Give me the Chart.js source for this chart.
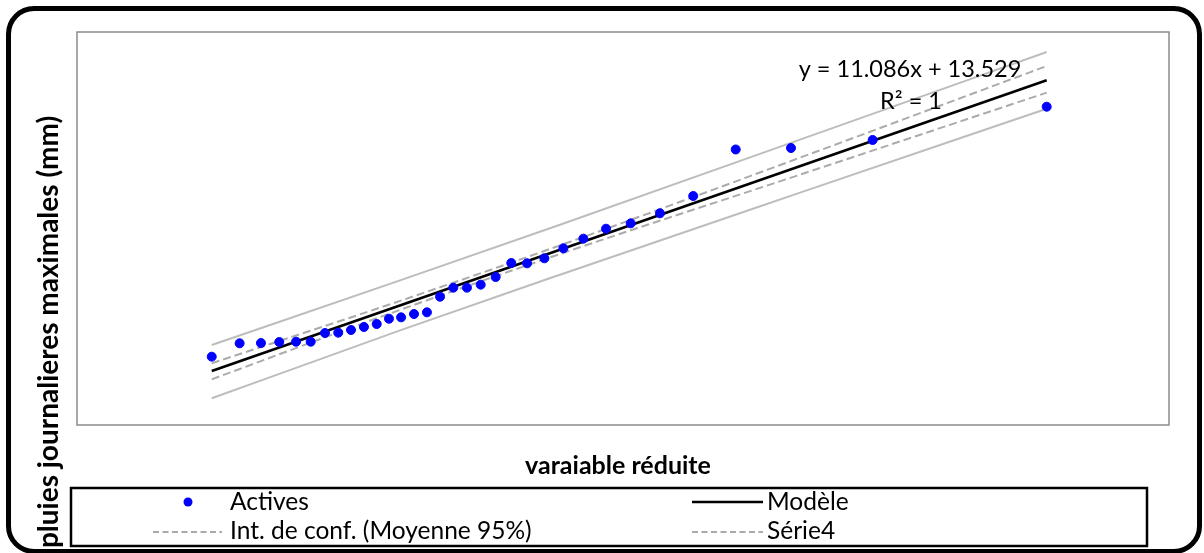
<!DOCTYPE html>
<html>
<head>
<meta charset="utf-8">
<script src="https://cdn.jsdelivr.net/npm/chart.js@4.4.1/dist/chart.umd.min.js"></script>
<style>
  body { margin: 0; background: #fff; }
  #wrap { position: relative; width: 1204px; height: 553px; overflow: hidden; }
  #frame { position: absolute; left: 6px; top: 6px; width: 1196px; height: 548px; box-sizing: border-box;
           border: 5px solid #000; border-radius: 28px; pointer-events: none; }
  canvas { position: absolute; left: 0; top: 0; }
</style>
</head>
<body>
<div id="wrap">
  <canvas id="chart" width="1204" height="553"></canvas>
  <div id="frame"></div>
</div>
<script>
'use strict';

// data (x = variable réduite, y = pluie en mm)
let activesX = [-1.198, -1.032, -0.905, -0.796, -0.696, -0.609, -0.524, -0.445, -0.369, -0.292, -0.216,
  -0.143, -0.071, 0.006, 0.083, 0.161, 0.240, 0.321, 0.403, 0.492, 0.585, 0.679, 0.782, 0.895,
  1.014, 1.149, 1.296, 1.470, 1.668, 1.921, 2.250, 2.736, 3.772];
let activesY = [2.95, 5.49, 5.54, 5.73, 5.79, 5.79, 7.44, 7.50, 8.01, 8.58, 9.14,
  10.15, 10.41, 11.04, 11.36, 14.32, 16.03, 16.03, 16.60, 18.05, 20.71, 20.65, 21.60, 23.50,
  25.32, 27.21, 28.23, 30.13, 33.41, 42.23, 42.51, 44.03, 50.34];

// modele (droite de regression)
let modelX = [-1.198, 3.772];
let modelY = [0.25, 55.35];

// bornes des intervalles
let bandX = [-1.198, -0.077, 0.875, 2.304, 3.772];
let confHigh = [1.69, 13.53, 24.05, 40.68, 58.05];
let confLow = [-1.34, 11.82, 22.41, 37.46, 53.00];
let predHigh = [5.16, 17.41, 27.97, 44.09, 60.71];
let predLow = [-4.94, 7.94, 18.49, 34.05, 49.96];

let equationText = ['y = 11.086x + 13.529', 'R² = 1'];
let xTitle = 'varaiable réduite';
let yTitle = 'pluies journalieres maximales (mm)';
let legendLabels = ['Actives', 'Modèle', 'Int. de conf. (Moyenne 95%)', 'Série4'];

const FONT = 'Lato, "Liberation Sans", sans-serif';
const DASH_GRAY = '#ababab';
const SOLID_GRAY = '#bdbdbd';

function toPoints(xs, ys) {
  let pts = [];
  for (let i = 0; i < xs.length; i++) {
    pts.push({ x: xs[i], y: ys[i] });
  }
  return pts;
}

// plot border, titles, equation and the boxed legend
const decorPlugin = {
  id: 'decor',
  beforeDatasetsDraw(chart) {
    const ctx = chart.ctx;
    const a = chart.chartArea;
    ctx.save();
    ctx.strokeStyle = '#8c8c8c';
    ctx.lineWidth = 1.5;
    ctx.strokeRect(a.left, a.top, a.right - a.left, a.bottom - a.top);
    ctx.restore();
  },
  afterDraw(chart) {
    const ctx = chart.ctx;
    ctx.save();
    ctx.fillStyle = '#000';

    // equation of the trend line
    ctx.font = '23.5px ' + FONT;
    ctx.textAlign = 'center';
    ctx.textBaseline = 'alphabetic';
    ctx.fillText(equationText[0], 910, 77);
    ctx.fillText(equationText[1], 911, 109);

    // x title
    ctx.font = 'bold 25px ' + FONT;
    ctx.textBaseline = 'alphabetic';
    ctx.fillText(xTitle, 618, 474);

    // y title
    ctx.save();
    ctx.font = 'bold 28px ' + FONT;
    ctx.translate(58, 332);
    ctx.rotate(-Math.PI / 2);
    ctx.fillText(yTitle, 0, 0);
    ctx.restore();

    // legend box
    ctx.strokeStyle = '#000';
    ctx.lineWidth = 2.5;
    ctx.strokeRect(71, 488, 1147 - 71, 546 - 488);

    ctx.font = '24.5px ' + FONT;
    ctx.textAlign = 'left';
    ctx.textBaseline = 'alphabetic';
    let baselines = [510, 539];
    let marks = [502, 532];
    let cols = [{ x0: 153, x1: 222, tx: 230 }, { x0: 692, x1: 763, tx: 767 }];

    // Actives
    ctx.fillStyle = '#0000ff';
    ctx.beginPath();
    ctx.arc(188, marks[0], 4.5, 0, Math.PI * 2);
    ctx.fill();
    // Modele
    ctx.strokeStyle = '#000';
    ctx.lineWidth = 2.5;
    ctx.beginPath();
    ctx.moveTo(cols[1].x0, marks[0]);
    ctx.lineTo(cols[1].x1, marks[0]);
    ctx.stroke();
    // dashed samples
    ctx.strokeStyle = DASH_GRAY;
    ctx.lineWidth = 2;
    ctx.setLineDash([6, 3.5]);
    for (let c = 0; c < 2; c++) {
      ctx.beginPath();
      ctx.moveTo(cols[c].x0, marks[1]);
      ctx.lineTo(cols[c].x1, marks[1]);
      ctx.stroke();
    }
    ctx.setLineDash([]);

    ctx.fillStyle = '#000';
    ctx.fillText(legendLabels[0], cols[0].tx, baselines[0]);
    ctx.fillText(legendLabels[1], cols[1].tx, baselines[0]);
    ctx.fillText(legendLabels[2], cols[0].tx, baselines[1]);
    ctx.fillText(legendLabels[3], cols[1].tx, baselines[1]);
    ctx.restore();
  }
};

const ctx = document.getElementById('chart').getContext('2d');

let chartData = {
  type: 'scatter',
  data: {
    datasets: [
      {
        label: legendLabels[0],
        data: toPoints(activesX, activesY),
        backgroundColor: '#0000ff',
        borderColor: '#0000ff',
        pointRadius: 4.5,
        showLine: false,
        order: 0
      },
      {
        label: legendLabels[1],
        data: toPoints(modelX, modelY),
        showLine: true,
        borderColor: '#000',
        borderWidth: 2.7,
        pointRadius: 0,
        order: 1
      },
      {
        label: legendLabels[2],
        data: toPoints(bandX, confHigh),
        showLine: true,
        borderColor: DASH_GRAY,
        borderWidth: 2,
        borderDash: [8, 4],
        pointRadius: 0,
        cubicInterpolationMode: 'monotone',
        order: 2
      },
      {
        label: legendLabels[2],
        data: toPoints(bandX, confLow),
        showLine: true,
        borderColor: DASH_GRAY,
        borderWidth: 2,
        borderDash: [8, 4],
        pointRadius: 0,
        cubicInterpolationMode: 'monotone',
        order: 2
      },
      {
        label: legendLabels[3],
        data: toPoints(bandX, predHigh),
        showLine: true,
        borderColor: SOLID_GRAY,
        borderWidth: 2,
        pointRadius: 0,
        cubicInterpolationMode: 'monotone',
        order: 3
      },
      {
        label: legendLabels[3],
        data: toPoints(bandX, predLow),
        showLine: true,
        borderColor: SOLID_GRAY,
        borderWidth: 2,
        pointRadius: 0,
        cubicInterpolationMode: 'monotone',
        order: 3
      }
    ]
  },
  options: {
    responsive: false,
    animation: false,
    layout: {
      padding: { left: 77, right: 35, top: 32, bottom: 128 }
    },
    scales: {
      x: { type: 'linear', min: -2, max: 4.5, display: false },
      y: { type: 'linear', min: -10, max: 64.5, display: false }
    },
    plugins: {
      legend: { display: false },
      tooltip: { enabled: false }
    }
  },
  plugins: [decorPlugin]
};

const myChart = new Chart(ctx, chartData); //eslint-disable-line
</script>
</body>
</html>
